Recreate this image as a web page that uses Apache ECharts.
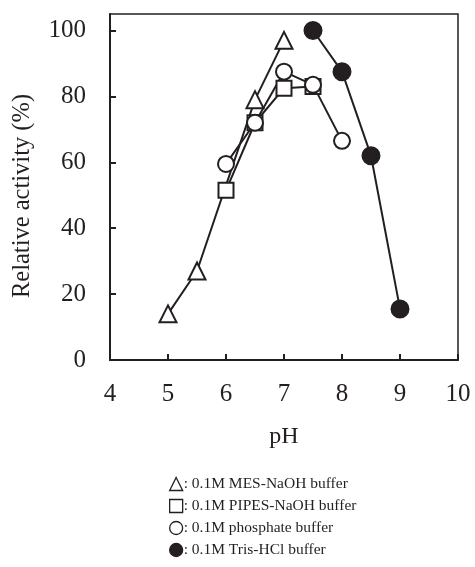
<!DOCTYPE html>
<html>
<head>
<meta charset="utf-8">
<script src="https://cdn.jsdelivr.net/npm/echarts@6/dist/echarts.min.js"></script>
<style>
html,body{margin:0;padding:0;background:#fff;}
#c{width:475px;height:567px;}
</style>
</head>
<body>
<div id="c"></div>
<script>
var mesPH = [5, 5.5, 6.5, 7];
var mesVal = [14, 27, 79, 97];
var pipesPH = [6, 6.5, 7, 7.5];
var pipesVal = [51.5, 72, 82.5, 83];
var phosPH = [6, 6.5, 7, 7.5, 8];
var phosVal = [59.5, 72, 87.5, 83.5, 66.5];
var trisPH = [7.5, 8, 8.5, 9];
var trisVal = [100, 87.5, 62, 15.5];
var xTicks = [4, 5, 6, 7, 8, 9, 10];
var yTicks = [0, 20, 40, 60, 80, 100];
var names = [': 0.1M MES-NaOH buffer', ': 0.1M PIPES-NaOH buffer', ': 0.1M phosphate buffer', ': 0.1M Tris-HCl buffer'];

function pairs(xs, ys){ return xs.map(function(x,i){ return [x, ys[i]]; }); }

var INK = '#231f20';
var FONT = '"Liberation Serif","Times New Roman",serif';

var chart = echarts.init(document.getElementById('c'), null, {renderer:'canvas'});
function mk(name, data, symbol, size, fill){
  return {
    name: name, type: 'line', data: data, symbol: symbol, symbolSize: size,
    showAllSymbol: true,
    lineStyle: {color: INK, width: 2},
    itemStyle: {color: fill, borderColor: INK, borderWidth: 2, opacity: 1},
    emphasis: {disabled: true},
    z: 3
  };
}
chart.setOption({
  animation: false,
  backgroundColor: '#fff',
  textStyle: {fontFamily: FONT, color: INK},
  grid: {left: 110, right: 17, top: 14, bottom: 207, show: true, borderColor: INK, borderWidth: 1.5, backgroundColor: 'transparent'},
  xAxis: {
    type: 'value', min: xTicks[0], max: xTicks[xTicks.length-1], interval: 1,
    name: 'pH', nameLocation: 'middle', nameGap: 65,
    nameTextStyle: {fontFamily: FONT, fontSize: 24, color: INK},
    axisLine: {show: true, lineStyle: {color: INK, width: 2}},
    axisTick: {show: true, inside: true, length: 6, lineStyle: {color: INK, width: 2}},
    axisLabel: {fontFamily: FONT, fontSize: 25, color: INK, margin: 22},
    splitLine: {show: false}
  },
  yAxis: {
    type: 'value', min: 0, max: 105, interval: 20,
    name: 'Relative activity (%)', nameLocation: 'middle', nameGap: 75,
    nameTextStyle: {fontFamily: FONT, fontSize: 24.5, color: INK, padding: [0, 18, 0, 0]},
    axisLine: {show: true, lineStyle: {color: INK, width: 2}},
    axisTick: {show: true, inside: true, length: 6, lineStyle: {color: INK, width: 2}},
    axisLabel: {fontFamily: FONT, fontSize: 25, color: INK, margin: 24, showMaxLabel: false,
      formatter: function(v){ return yTicks.indexOf(v) >= 0 ? String(v) : ''; }},
    splitLine: {show: false}
  },
  legend: {
    orient: 'vertical', left: 164, top: 471,
    itemWidth: 13, itemHeight: 13, itemGap: 6,
    selectedMode: false,
    textStyle: {fontFamily: FONT, fontSize: 15.5, color: INK, padding: [0,0,0,-4]},
    data: [
      {name: names[0], icon: 'triangle', itemStyle: {color: '#fff', borderColor: INK, borderWidth: 1.3}},
      {name: names[1], icon: 'rect', itemStyle: {color: '#fff', borderColor: INK, borderWidth: 1.3}},
      {name: names[2], icon: 'circle', itemStyle: {color: '#fff', borderColor: INK, borderWidth: 1.3}},
      {name: names[3], icon: 'circle', itemStyle: {color: INK, borderColor: INK, borderWidth: 1.3}}
    ]
  },
  series: [
    mk(names[0], pairs(mesPH, mesVal), 'triangle', 17, '#fff'),
    mk(names[1], pairs(pipesPH, pipesVal), 'rect', 15, '#fff'),
    mk(names[2], pairs(phosPH, phosVal), 'circle', 16, '#fff'),
    mk(names[3], pairs(trisPH, trisVal), 'circle', 17, INK)
  ]
});
</script>
</body>
</html>
